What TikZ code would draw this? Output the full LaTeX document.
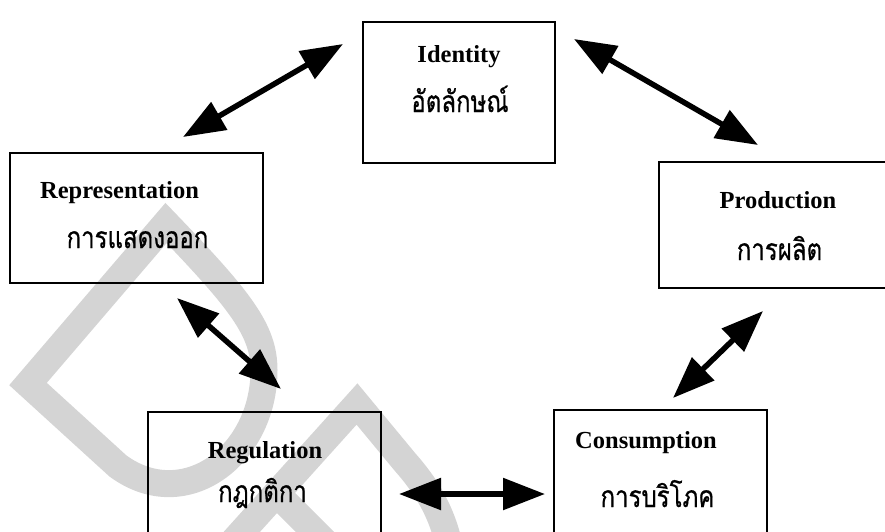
\documentclass[tikz,border=0pt]{standalone}
\usepackage{fontspec}
\setmainfont{Liberation Serif}
\newfontfamily\thaifont[Script=Thai, FakeStretch=0.8, FakeBold=0.6]{Loma}
\usetikzlibrary{arrows.meta}
\definecolor{wmgrey}{RGB}{212,212,212}
\tikzset{
  box/.style={draw=black, line width=1.4pt, inner sep=0pt},
  en/.style={anchor=base, inner sep=0pt, font=\fontsize{24.5}{28}\selectfont\bfseries},
  th/.style={anchor=base, inner sep=0pt, font=\thaifont\fontsize{30}{34}\selectfont},
  dbl/.style={line width=5.5pt, {Triangle[length=42pt,width=31pt]}-{Triangle[length=42pt,width=31pt]}},
  wm/.style={draw=wmgrey, line width=27pt, line join=miter}
}
\begin{document}
\begin{tikzpicture}[x=1pt,y=-1pt]
\useasboundingbox (0,0) rectangle (885,531);
\clip (0,0) rectangle (885,531);
% watermark
\draw[wm] (166,223) -- (28,384) -- (118,466) .. controls (185,515) and (264,455) .. (264,370) .. controls (264,330) and (240,300) .. cycle;
\draw[wm] (230,545) -- (357,404) -- (405,462) .. controls (427,487) and (445,515) .. (452,560);
\draw[wm] (274,491) -- (335,552);
% boxes
\node[box, minimum width=192pt, minimum height=141pt] (idb) at (459,92.5) {};
\node[box, minimum width=253pt, minimum height=130pt] (repb) at (136.5,218) {};
\node[box, minimum width=246pt, minimum height=126pt] (prob) at (782,225) {};
\node[box, minimum width=233pt, minimum height=148pt] (regb) at (264.5,486) {};
\node[box, minimum width=213pt, minimum height=150pt] (conb) at (660.5,485) {};
% labels
\node[en] (idt) at (459,62) {Identity};
\node[th] (idth) at (460,112) {อัตลักษณ์};
\node[en] (rept) at (119.5,198) {Representation};
\node[th] (repth) at (137.5,248) {การแสดงออก};
\node[en] (prot) at (778,208) {Production};
\node[th] (proth) at (779.5,260) {การผลิต};
\node[en] (regt) at (265,458) {Regulation};
\node[th] (regth) at (262.5,502) {กฎกติกา};
\node[en] (cont) at (646,448) {Consumption};
\node[th] (conth) at (657.5,507) {การบริโภค};
% arrow ends
\coordinate (a1s) at (183,137); \coordinate (a1e) at (343,44);
\coordinate (a2s) at (574,39);  \coordinate (a2e) at (758,145);
\coordinate (a3s) at (177,298); \coordinate (a3e) at (281,389);
\coordinate (a4s) at (763,311); \coordinate (a4e) at (673,398);
\coordinate (a5s) at (399,494); \coordinate (a5e) at (545,494);
\draw[dbl] (a1s) -- (a1e);
\draw[dbl] (a2s) -- (a2e);
\draw[dbl] (a3s) -- (a3e);
\draw[dbl] (a4s) -- (a4e);
\draw[dbl] (a5s) -- (a5e);
\end{tikzpicture}
\end{document}
